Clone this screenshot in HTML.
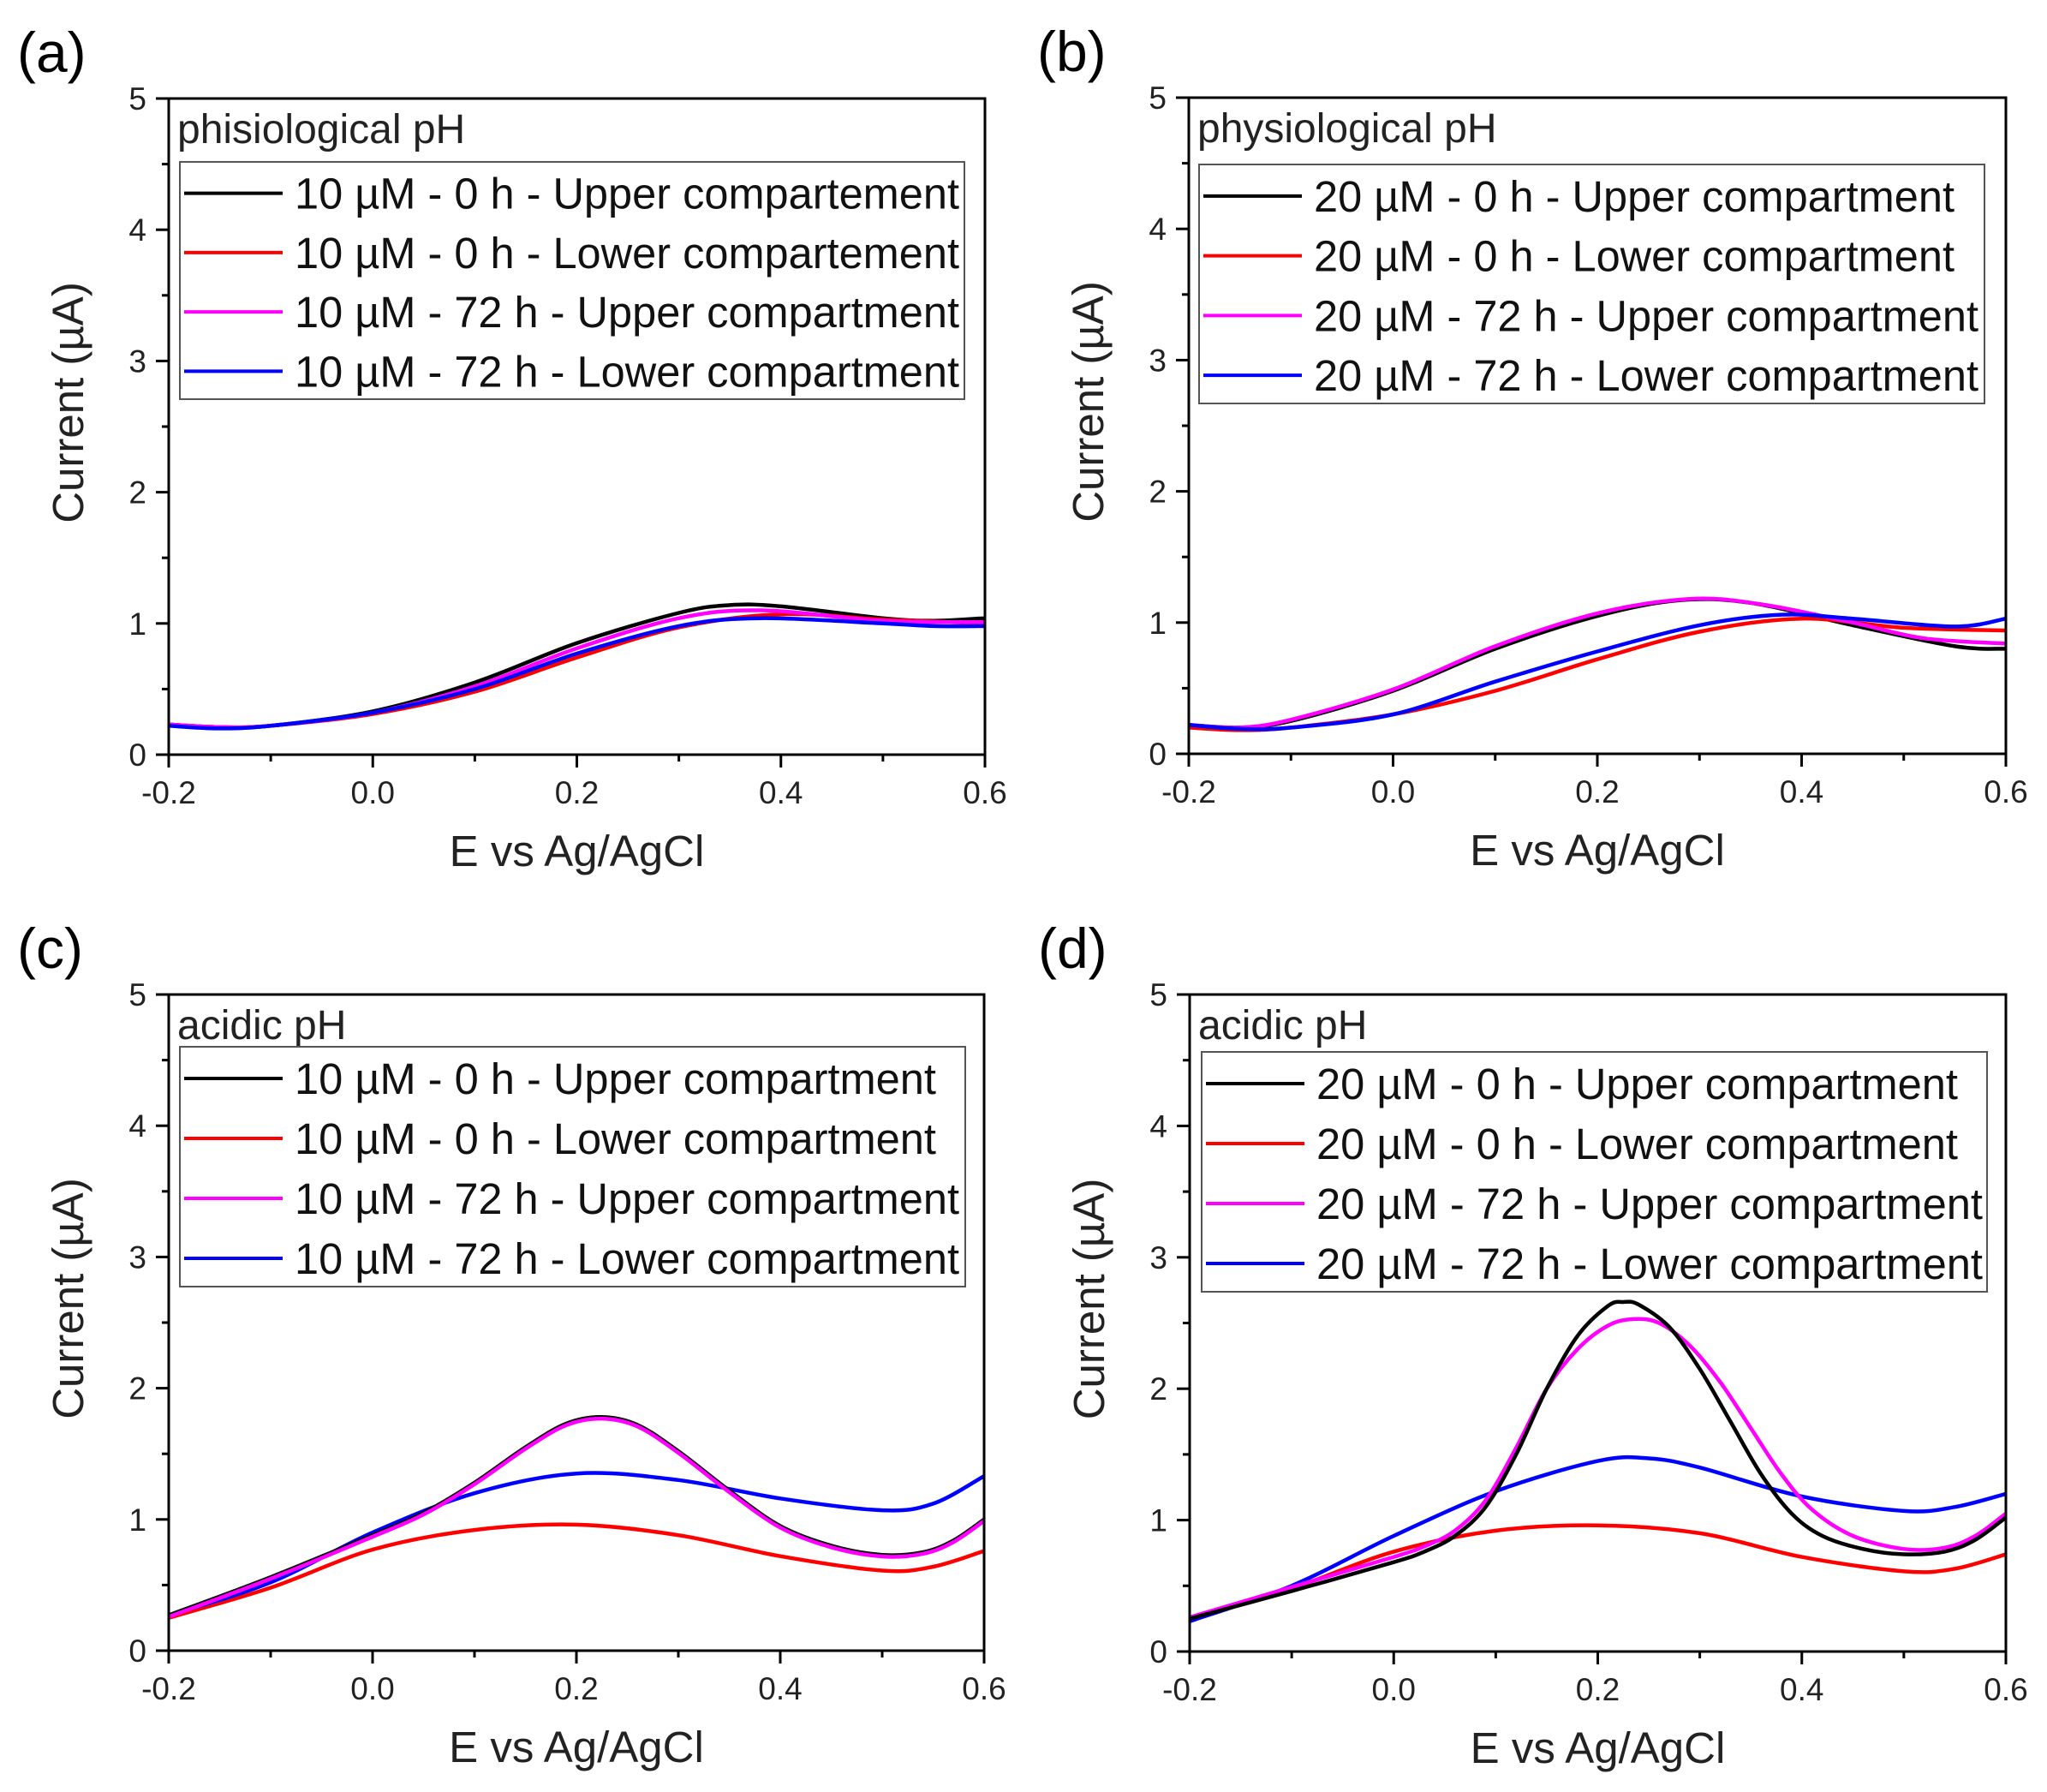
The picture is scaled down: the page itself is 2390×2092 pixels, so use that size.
<!DOCTYPE html>
<html><head><meta charset="utf-8"><style>
html,body{margin:0;padding:0;background:#fff;}
svg{display:block;}
text{font-family:"Liberation Sans",Arial,sans-serif;}
</style></head><body>
<svg id="s" width="2390" height="2092" viewBox="0 0 2390 2092" xmlns="http://www.w3.org/2000/svg"></svg>
<script>
const S=document.getElementById('s');
let out='';
function sc(a,f){return a.map(p=>[p[0],f(p)]);}
const dBlack=[[-0.2,.25],[-0.1,.46],[0,.68],[0.03,.76],[0.06,.88],[0.09,1.1],[0.12,1.5],[0.15,2.0],[0.18,2.4],[0.21,2.63],[0.225,2.66],[0.24,2.64],[0.27,2.47],[0.3,2.15],[0.33,1.75],[0.36,1.35],[0.39,1.05],[0.42,0.88],[0.46,0.78],[0.5,0.74],[0.54,0.76],[0.57,0.85],[0.6,1.02]];
const dMag=[[-0.2,.26],[-0.1,.49],[0,.72],[0.03,.8],[0.06,.92],[0.09,1.15],[0.12,1.55],[0.15,2.0],[0.18,2.3],[0.21,2.48],[0.235,2.53],[0.26,2.5],[0.29,2.33],[0.32,2.05],[0.35,1.7],[0.38,1.35],[0.41,1.08],[0.45,0.88],[0.5,0.78],[0.54,0.79],[0.57,0.88],[0.6,1.05]];
const cBlack=[[-0.2,.27],[-0.1,.56],[0,.88],[0.05,1.05],[0.1,1.28],[0.15,1.55],[0.19,1.73],[0.225,1.78],[0.26,1.72],[0.3,1.52],[0.35,1.22],[0.4,0.95],[0.45,0.8],[0.5,0.73],[0.54,0.75],[0.57,0.84],[0.6,1.0]];
const panels=[
 {lab:'(a)',x0:197,x1:1150,y5:115,y0:881,title:'phisiological pH',conc:'10',
  leg:['Upper compartement','Lower compartement','Upper compartment','Lower compartment'],
  box:[210,189,1126,466],ends:[1120,1120,1120,1120],
  series:[
   ['#000',[[-0.2,0.23],[-0.15,0.21],[-0.1,0.22],[0,0.33],[0.1,0.55],[0.2,0.85],[0.3,1.08],[0.35,1.14],[0.4,1.13],[0.5,1.04],[0.55,1.02],[0.6,1.04]]],
   ['#f00',[[-0.2,0.23],[-0.15,0.21],[-0.1,0.22],[0,0.31],[0.1,0.48],[0.2,0.74],[0.3,0.97],[0.4,1.07],[0.5,1.03],[0.6,1.0]]],
   ['#f0f',[[-0.2,0.23],[-0.15,0.21],[-0.1,0.22],[0,0.32],[0.1,0.52],[0.2,0.81],[0.3,1.04],[0.38,1.10],[0.5,1.02],[0.6,1.01]]],
   ['#00f',[[-0.2,0.22],[-0.15,0.2],[-0.1,0.22],[0,0.32],[0.1,0.50],[0.2,0.77],[0.3,0.98],[0.38,1.04],[0.5,1.0],[0.55,0.98],[0.6,0.98]]]
  ]},
 {lab:'(b)',x0:1388,x1:2342,y5:114,y0:880,title:'physiological pH',conc:'20',
  leg:['Upper compartment','Lower compartment','Upper compartment','Lower compartment'],
  box:[1400,192,2317,471],ends:[2282,2282,2310,2310],
  series:[
   ['#000',[[-0.2,0.22],[-0.15,0.2],[-0.1,0.25],[0,0.48],[0.1,0.8],[0.2,1.05],[0.28,1.17],[0.35,1.15],[0.45,0.98],[0.55,0.82],[0.6,0.8]]],
   ['#f00',[[-0.2,0.2],[-0.15,0.18],[-0.1,0.2],[0,0.3],[0.1,0.48],[0.2,0.72],[0.3,0.93],[0.4,1.03],[0.5,0.96],[0.6,0.94]]],
   ['#f0f',[[-0.2,0.22],[-0.15,0.2],[-0.1,0.26],[0,0.49],[0.1,0.82],[0.2,1.07],[0.29,1.18],[0.36,1.14],[0.45,1.0],[0.52,0.88],[0.6,0.84]]],
   ['#00f',[[-0.2,0.22],[-0.15,0.19],[-0.1,0.2],[0,0.3],[0.1,0.55],[0.2,0.78],[0.3,0.98],[0.38,1.06],[0.45,1.03],[0.55,0.97],[0.6,1.03]]]
  ]},
 {lab:'(c)',x0:197,x1:1149,y5:1161,y0:1927,title:'acidic pH',conc:'10',
  leg:['Upper compartment','Lower compartment','Upper compartment','Lower compartment'],
  box:[210,1222,1127,1502],ends:[1093,1093,1120,1120],
  series:[
   ['#f00',[[-0.2,0.25],[-0.1,0.48],[0,0.77],[0.1,0.92],[0.2,0.96],[0.3,0.88],[0.4,0.72],[0.5,0.61],[0.55,0.64],[0.6,0.76]]],
   ['#00f',[[-0.2,0.27],[-0.1,0.52],[0,0.9],[0.1,1.2],[0.2,1.35],[0.3,1.3],[0.4,1.16],[0.5,1.07],[0.55,1.12],[0.6,1.33]]],
   ['#000',cBlack],
   ['#f0f',sc(cBlack,p=>p[1]-0.012)]
  ]},
 {lab:'(d)',x0:1389,x1:2342,y5:1161,y0:1928,title:'acidic pH',conc:'20',
  leg:['Upper compartment','Lower compartment','Upper compartment','Lower compartment'],
  box:[1403,1228,2320,1508],ends:[2286,2286,2315,2315],
  series:[
   ['#f00',[[-0.2,0.25],[-0.1,0.48],[0,0.76],[0.1,0.92],[0.2,0.96],[0.3,0.9],[0.4,0.72],[0.5,0.61],[0.55,0.63],[0.6,0.74]]],
   ['#00f',[[-0.2,0.23],[-0.1,0.5],[0,0.88],[0.1,1.22],[0.2,1.45],[0.25,1.47],[0.3,1.4],[0.4,1.18],[0.5,1.07],[0.55,1.1],[0.6,1.2]]],
   ['#f0f',dMag],
   ['#000',dBlack]
  ]}
];
function path(pts,X,Y){
  let P=pts.map(p=>[X(p[0]),Y(p[1])]);
  let d='M'+P[0][0].toFixed(1)+','+P[0][1].toFixed(1);
  for(let i=0;i<P.length-1;i++){
    const p0=P[i-1]||P[i],p1=P[i],p2=P[i+1],p3=P[i+2]||P[i+1];
    const c1=[p1[0]+(p2[0]-p0[0])/6,p1[1]+(p2[1]-p0[1])/6];
    const c2=[p2[0]-(p3[0]-p1[0])/6,p2[1]-(p3[1]-p1[1])/6];
    d+=' C'+c1.map(v=>v.toFixed(1))+' '+c2.map(v=>v.toFixed(1))+' '+p2.map(v=>v.toFixed(1));
  }
  return d;
}
const F='font-family="Liberation Sans, Arial, sans-serif"';
const cols=['#000','#f00','#f0f','#00f'];
for(const p of panels){
  const X=v=>p.x0+(v+0.2)/0.8*(p.x1-p.x0);
  const Y=v=>p.y0-v/5*(p.y0-p.y5);
  out+=`<text x="${p.x0-177}" y="${p.y5-31}" font-size="66" font-family="DejaVu Sans, sans-serif">${p.lab}</text>`;
  out+=`<clipPath id="c${p.lab[1]}"><rect x="${p.x0}" y="${p.y5}" width="${p.x1-p.x0}" height="${p.y0-p.y5}"/></clipPath>`;
  for(const s of p.series) out+=`<path d="${path(s[1],X,Y)}" fill="none" stroke="${s[0]}" stroke-width="4.5" clip-path="url(#c${p.lab[1]})"/>`;
  out+=`<rect x="${p.x0}" y="${p.y5}" width="${p.x1-p.x0}" height="${p.y0-p.y5}" fill="none" stroke="#000" stroke-width="3"/>`;
  for(let i=0;i<=10;i++){const y=Y(i/2);const L=i%2?8:15;out+=`<line x1="${p.x0-L}" x2="${p.x0}" y1="${y}" y2="${y}" stroke="#000" stroke-width="3"/>`;
    if(i%2==0) out+=`<text ${F} x="${p.x0-26}" y="${y+13}" font-size="37" text-anchor="end" fill="#222">${i/2}</text>`;}
  for(let i=0;i<=8;i++){const x=X(-0.2+i*0.1);const L=i%2?8:15;out+=`<line x1="${x}" x2="${x}" y1="${p.y0}" y2="${p.y0+L}" stroke="#000" stroke-width="3"/>`;
    if(i%2==0) out+=`<text ${F} x="${x}" y="${p.y0+57}" font-size="37" text-anchor="middle" fill="#222">${(-0.2+i*0.1).toFixed(1)}</text>`;}
  const cx=(p.x0+p.x1)/2;
  out+=`<text ${F} x="${cx}" y="${p.y0+130}" font-size="51" text-anchor="middle" fill="#222">E vs Ag/AgCl</text>`;
  const cy=(p.y0+p.y5)/2;
  out+=`<text ${F} transform="translate(${p.x0-100},${cy-28}) rotate(-90)" x="0" y="0" font-size="51" text-anchor="middle" fill="#222">Current (µA)</text>`;
  out+=`<text ${F} x="${p.x0+10}" y="${p.y5+52}" font-size="48" fill="#222">${p.title}</text>`;
  const b=p.box;
  out+=`<rect x="${b[0]}" y="${b[1]}" width="${b[2]-b[0]}" height="${b[3]-b[1]}" fill="none" stroke="#555" stroke-width="2"/>`;
  const rowH=(b[3]-b[1])/4;
  for(let k=0;k<4;k++){
    const y=b[1]+rowH*(k+0.5)+2;
    out+=`<line x1="${b[0]+5}" x2="${b[0]+120}" y1="${y}" y2="${y}" stroke="${cols[k]}" stroke-width="4"/>`;
    const t=`${p.conc} µM - ${k<2?'0':'72'} h - ${p.leg[k]}`;
    const x=b[0]+134;
    out+=`<text ${F} x="${x}" y="${y+18}" font-size="51" fill="#111" textLength="${p.ends[k]-x}" lengthAdjust="spacingAndGlyphs">${t}</text>`;
  }
}
S.innerHTML=out;
</script>
</body></html>
